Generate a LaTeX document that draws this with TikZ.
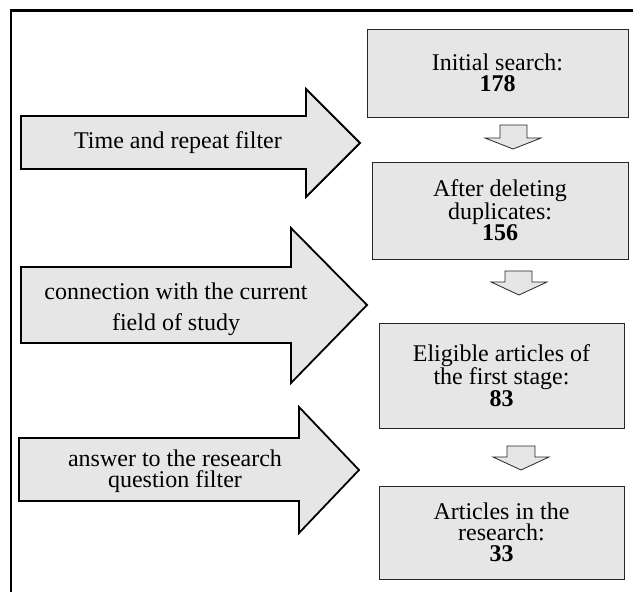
\documentclass[tikz,border=0pt]{standalone}
\usepackage{fontspec}
\setmainfont{Liberation Serif}
\definecolor{boxgray}{HTML}{E6E6E6}
\begin{document}
\begin{tikzpicture}[x=1pt,y=-1pt,
  box/.style={draw=black!85, line width=0.9pt, fill=boxgray, align=center, inner sep=0pt,
    font=\fontsize{24}{21}\selectfont},
  bigarrow/.style={draw=black, line width=1.8pt, fill=boxgray, line join=miter},
  downarrow/.style={draw=black!85, line width=0.8pt, fill=boxgray, line join=miter},
  lbl/.style={align=center, inner sep=0pt}]
\useasboundingbox (0,0) rectangle (633,592);
% frame
\draw[line width=2.4pt] (11,592) -- (11,10.5) -- (633,10.5);
% boxes
\node[box, minimum width=261pt, minimum height=88pt] (b1) at (497.5,73)
  {Initial search:\\\textbf{178}};
\node[box, minimum width=256pt, minimum height=97pt] (b2) at (500,210.5)
  {After deleting\\duplicates:\\\textbf{156}};
\node[box, minimum width=245pt, minimum height=105pt] (b3) at (501.5,375.5)
  {Eligible articles of\\the first stage:\\\textbf{83}};
\node[box, minimum width=245pt, minimum height=93pt] (b4) at (501.5,532.5)
  {Articles in the\\research:\\\textbf{33}};
% down arrows
\draw[downarrow] (500,125) -- (527,125) -- (527,138) -- (541,138) -- (513,149)
  -- (485,138) -- (500,138) -- cycle;
\draw[downarrow] (505,271) -- (532,271) -- (532,282) -- (547,282) -- (519,295)
  -- (491,282) -- (505,282) -- cycle;
\draw[downarrow] (507,446) -- (535,446) -- (535,457) -- (549,457) -- (521,470)
  -- (493,457) -- (507,457) -- cycle;
% big arrows
\draw[bigarrow] (21,116) -- (306,116) -- (306,89) -- (360,143) -- (306,197)
  -- (306,169) -- (21,169) -- cycle;
\draw[bigarrow] (21,267) -- (291,267) -- (291,228) -- (367,305) -- (291,383)
  -- (291,343) -- (21,343) -- cycle;
\draw[bigarrow] (19,438) -- (299,438) -- (299,407) -- (359,470) -- (299,533)
  -- (299,501) -- (19,501) -- cycle;
% arrow labels
\node[lbl, font=\fontsize{24}{24}\selectfont] (t1) at (178,143) {Time and repeat filter};
\node[lbl, font=\fontsize{24}{31}\selectfont] (t2) at (176,309) {connection with the current\\field of study};
\node[lbl, font=\fontsize{24}{20.5}\selectfont] (t3) at (175,471) {answer to the research\\question filter};
\end{tikzpicture}
\end{document}
